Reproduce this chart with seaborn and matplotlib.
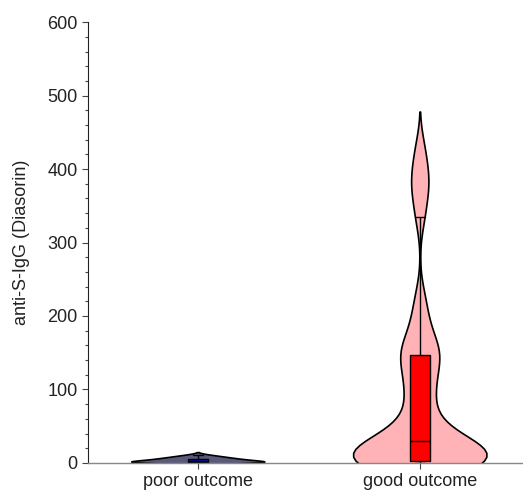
import numpy as np
import pandas as pd
import matplotlib
matplotlib.use("Agg")
import matplotlib.pyplot as plt
from matplotlib.ticker import AutoMinorLocator
import seaborn as sns

categories = ["poor outcome", "good outcome"]
poor_values = [0, 0, 0.5, 1, 1, 1.5, 2, 2, 3, 3, 4, 5, 5, 6, 7, 8, 9, 11]
good_values = [0, 0, 0, 0, 0.5, 1, 1, 1.5, 1.5, 2, 2, 2,
               5, 8, 11, 14, 17, 20, 22, 24, 26, 28,
               30, 38, 45, 53, 66, 80, 92, 103, 114, 126, 137,
               147, 150, 155, 165, 180, 200, 225,
               335, 366, 382, 400, 428]
violin_colors = {"poor outcome": "#5a5a7a", "good outcome": "#ffb3b6"}
box_colors = {"poor outcome": "#1010d0", "good outcome": "#ff0000"}
y_ticks = [0, 100, 200, 300, 400, 500, 600]

df = pd.DataFrame({
    "group": ["poor outcome"] * len(poor_values) + ["good outcome"] * len(good_values),
    "value": poor_values + good_values,
})
poor_df = df[df["group"] == "poor outcome"]
good_df = df[df["group"] == "good outcome"]
good_bw = 24.0 / np.std(good_values, ddof=1)

sns.set_theme(style="ticks")
plt.rcParams["font.family"] = ["Liberation Sans", "DejaVu Sans"]

fig = plt.figure(figsize=(5.23, 4.94), dpi=100)
ax = fig.add_axes([0.168, 0.063, 0.832, 0.892])

common = dict(x="group", y="value", hue="group", order=categories,
              hue_order=categories, density_norm="width", width=0.6,
              linecolor="black", linewidth=1.2, saturation=1, legend=False,
              ax=ax, dodge=False, inner=None)
sns.violinplot(data=poor_df, palette=violin_colors, cut=2, **common)
sns.violinplot(data=good_df, palette=violin_colors, cut=2.1, bw_method=good_bw,
               **common)
sns.boxplot(data=df, x="group", y="value", hue="group", order=categories,
            hue_order=categories, palette=box_colors, width=0.09, showfliers=False,
            linecolor="black", linewidth=1.0, saturation=1, legend=False, ax=ax,
            dodge=False)

ax.set_ylim(0, 600)
ax.set_xlim(-0.495, 1.465)
ax.set_yticks(y_ticks)
ax.yaxis.set_minor_locator(AutoMinorLocator(5))
ax.set_xlabel("")
ax.set_ylabel("anti-S-IgG (Diasorin)", fontsize=13, color="#222222", labelpad=12)
ax.tick_params(axis="both", labelsize=13, colors="#222222")
ax.tick_params(axis="y", which="major", length=4, width=0.8, color="#444444")
ax.tick_params(axis="y", which="minor", length=2.5, width=0.8, color="#444444")
ax.tick_params(axis="x", length=4, width=0.8, color="#444444")
for s in ["top", "right"]:
    ax.spines[s].set_visible(False)
ax.spines["left"].set_color("#222222")
ax.spines["left"].set_linewidth(0.8)
ax.spines["bottom"].set_color("#888888")
ax.spines["bottom"].set_linewidth(1.0)

fig.savefig("out.png", dpi=100)
